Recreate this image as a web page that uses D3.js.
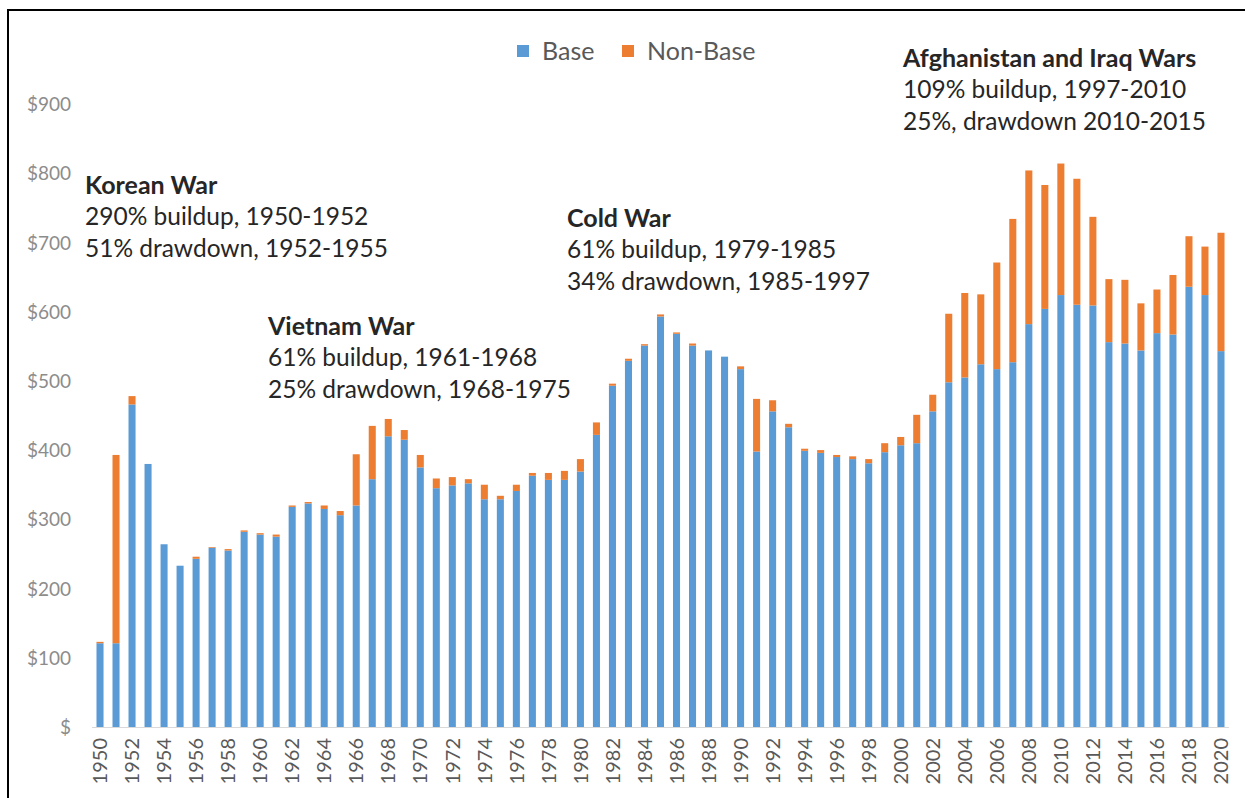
<!DOCTYPE html>
<html>
<head>
<meta charset="utf-8">
<script src="https://cdn.jsdelivr.net/npm/d3@7"></script>
<style>
  html, body { margin: 0; padding: 0; background: #fff; }
  svg { display: block; font-family: Lato, "Open Sans", sans-serif; }
</style>
</head>
<body>
<svg id="chart" width="1245" height="798"></svg>
<script>
// ---------------- data ----------------
const years = d3.range(1950, 2021);
const baseValues = [
  121, 121, 466, 380, 264, 233, 243, 259, 255, 282,
  278, 275, 318, 323, 315, 306, 320, 358, 420, 415,
  375, 345, 349, 352, 329, 329, 341, 363, 357, 357,
  369, 422, 493, 529, 551, 593, 568, 551, 544, 535,
  517, 398, 456, 433, 399, 396, 390, 387, 381, 397,
  407, 410, 456, 498, 505, 524, 517, 527, 582, 604,
  624, 610, 609, 556, 554, 544, 569, 567, 636, 624,
  543
];
const nonBaseValues = [
  2, 272, 12, 0, 0, 0, 3, 1, 2, 2,
  2, 3, 2, 2, 5, 6, 74, 77, 25, 14,
  18, 14, 12, 6, 21, 5, 9, 4, 10, 13,
  18, 18, 3, 3, 2, 3, 2, 3, 0, 0,
  4, 76, 16, 5, 3, 4, 3, 4, 6, 13,
  12, 41, 24, 99, 122, 101, 154, 207, 222, 179,
  190, 182, 128, 91, 92, 68, 63, 86, 73, 70,
  171
];
const seriesNames = ["Base", "Non-Base"];
const seriesColors = ["#5B9BD5", "#ED7D31"];
const yTickValues = [0, 100, 200, 300, 400, 500, 600, 700, 800, 900];
const yTickLabels = ["$", "$100", "$200", "$300", "$400", "$500", "$600", "$700", "$800", "$900"];
const xTickYears = years.filter(y => y % 2 === 0);

const annotationTitles = ["Korean War", "Vietnam War", "Cold War", "Afghanistan and Iraq Wars"];
const annotationLines = [
  ["290% buildup, 1950-1952", "51% drawdown, 1952-1955"],
  ["61% buildup, 1961-1968", "25% drawdown, 1968-1975"],
  ["61% buildup, 1979-1985", "34% drawdown, 1985-1997"],
  ["109% buildup, 1997-2010", "25%, drawdown 2010-2015"]
];

// ---------------- layout ----------------
const svg = d3.select("#chart");
const x0 = 92, x1 = 1229, yBase = 727, yTop = 104;

const table = years.map((yr, i) => ({ year: yr, "Base": baseValues[i], "Non-Base": nonBaseValues[i] }));

const x = d3.scaleBand().domain(years).range([x0, x1]).paddingInner(0.56).paddingOuter(0.28);
const y = d3.scaleLinear().domain([0, 900]).range([yBase, yTop]);
const color = d3.scaleOrdinal().domain(seriesNames).range(seriesColors);

// frame
svg.append("line").attr("x1", 7).attr("x2", 1245).attr("y1", 10).attr("y2", 10)
  .attr("stroke", "#000").attr("stroke-width", 2);
svg.append("line").attr("x1", 8).attr("x2", 8).attr("y1", 10).attr("y2", 798)
  .attr("stroke", "#000").attr("stroke-width", 2);

// bars
const stacked = d3.stack().keys(seriesNames)(table);
svg.append("g").selectAll("g").data(stacked).join("g")
  .attr("fill", d => color(d.key))
  .selectAll("rect").data(d => d).join("rect")
  .attr("x", d => x(d.data.year))
  .attr("width", x.bandwidth())
  .attr("y", d => y(d[1]))
  .attr("height", d => Math.max(0, y(d[0]) - y(d[1])));

// x axis line
svg.append("line").attr("x1", x0).attr("x2", x1).attr("y1", yBase + 0.5).attr("y2", yBase + 0.5)
  .attr("stroke", "#d9d9d9").attr("stroke-width", 1.2);

// y axis labels
const yAxis = d3.axisLeft(y).tickValues(yTickValues).tickSize(0)
  .tickFormat((d, i) => yTickLabels[i]);
const gy = svg.append("g").attr("transform", "translate(71,0)").call(yAxis);
gy.select(".domain").remove();
gy.selectAll("text").attr("x", 0).attr("dy", "0.35em")
  .attr("fill", "#8c8c8c").style("font-size", "19px").style("font-family", "Lato, sans-serif");

// x axis labels
const xAxis = d3.axisBottom(x).tickValues(xTickYears).tickSize(0);
const gx = svg.append("g").attr("transform", `translate(0,${yBase})`).call(xAxis);
gx.select(".domain").remove();
gx.selectAll("text")
  .attr("transform", "rotate(-90)")
  .attr("x", -11).attr("y", 0).attr("dy", "0.36em")
  .attr("text-anchor", "end")
  .attr("fill", "#595959").style("font-size", "20px").style("font-family", "Lato, sans-serif");

// legend
const legendX = [517, 622];
const legend = svg.append("g");
seriesNames.forEach((name, i) => {
  legend.append("rect").attr("x", legendX[i]).attr("y", 45).attr("width", 12).attr("height", 12)
    .attr("fill", seriesColors[i]);
  legend.append("text").attr("x", legendX[i] + 25).attr("y", 51).attr("dy", "0.35em")
    .attr("fill", "#595959").style("font-size", "25px").text(name);
});

// annotations
const annPos = [[85, 185], [268, 326], [567, 218], [903, 58]];
annotationTitles.forEach((t, i) => {
  const g = svg.append("g").attr("transform", `translate(${annPos[i][0]},${annPos[i][1]})`);
  g.append("text").attr("y", 0).attr("dy", "0.35em").attr("fill", "#262626")
    .style("font-size", "25px").style("font-weight", "bold").text(t);
  annotationLines[i].forEach((l, j) => {
    g.append("text").attr("y", 31.5 * (j + 1)).attr("dy", "0.35em").attr("fill", "#262626")
      .style("font-size", "24.5px").text(l);
  });
});
</script>
</body>
</html>
